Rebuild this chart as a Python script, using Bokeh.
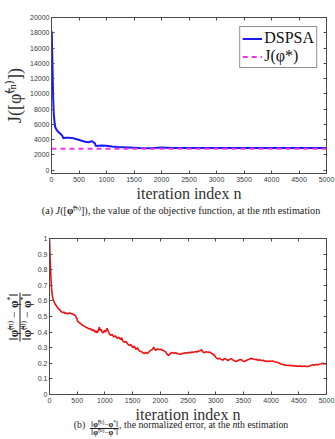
from bokeh.plotting import figure
from bokeh.layouts import column, row
from bokeh.models import (Range1d, LinearAxis, Legend, LegendItem, Div,
                          FixedTicker, CustomJSTickFormatter)
from bokeh.embed import file_html
from bokeh.resources import INLINE

# ---- objective function J over iterations (DSPSA) ----
dspsa_n = [0, 6, 12, 18, 24, 30, 36, 42, 55, 67, 90, 127, 170, 200, 218, 248,
           300, 370, 430, 491, 550, 612, 673, 710, 740, 770, 790, 805, 850,
           915, 1000, 1100, 1200, 1400, 1600, 1800, 2000, 2200, 2500, 3000,
           3500, 4000, 4500, 5000]
dspsa_j = [18200, 17900, 15500, 13800, 11500, 9500, 8300, 7300, 6300, 5650,
           5300, 4980, 4700, 4450, 4150, 4230, 4230, 4220, 4100, 3980, 3850,
           3720, 3640, 3750, 3780, 3600, 3500, 3150, 3200, 3230, 3200, 3080,
           3020, 2960, 2900, 2860, 2950, 2900, 2900, 2880, 2900, 2880, 2890,
           2880]
j_star = 2800
j_star_n = [0, 5000]

# ---- normalized error over iterations ----
err_n = [0, 5, 10, 15, 20, 25, 30, 40, 50, 65, 80, 100, 120, 140, 160, 180,
         200, 220, 240, 260, 280, 300, 330, 360, 390, 420, 450, 470, 490, 510,
         530, 560, 590, 620, 650, 680, 710, 740, 770, 800, 820, 840, 860, 880,
         900, 915, 930, 950, 970, 990, 1010, 1040, 1060, 1080, 1100, 1130,
         1160, 1190, 1220, 1250, 1280, 1300, 1320, 1350, 1380, 1410, 1440,
         1470, 1500, 1530, 1560, 1590, 1620, 1650, 1680, 1710, 1740, 1770,
         1800, 1830, 1860, 1880, 1900, 1920, 1950, 1980, 2010, 2040, 2070,
         2100, 2130, 2150, 2180, 2210, 2240, 2270, 2300, 2330, 2360, 2390,
         2420, 2450, 2480, 2510, 2540, 2570, 2600, 2630, 2660, 2690, 2720,
         2745, 2770, 2800, 2830, 2860, 2890, 2920, 2950, 2980, 3010, 3040,
         3070, 3100, 3130, 3160, 3190, 3220, 3250, 3280, 3310, 3340, 3370,
         3400, 3430, 3460, 3490, 3520, 3550, 3580, 3610, 3640, 3670, 3700,
         3730, 3760, 3790, 3820, 3850, 3880, 3910, 3940, 3970, 4000, 4030,
         4060, 4090, 4120, 4150, 4180, 4210, 4240, 4270, 4300, 4330, 4360,
         4390, 4420, 4450, 4480, 4510, 4540, 4570, 4600, 4630, 4660, 4690,
         4720, 4750, 4780, 4810, 4840, 4870, 4900, 4930, 4960, 4980, 5000]
err_v = [1.00, 0.95, 0.88, 0.84, 0.80, 0.76, 0.72, 0.67, 0.635, 0.61, 0.595,
         0.58, 0.57, 0.56, 0.55, 0.545, 0.535, 0.53, 0.525, 0.528, 0.52,
         0.522, 0.518, 0.522, 0.52, 0.516, 0.51, 0.505, 0.49, 0.47, 0.462,
         0.455, 0.445, 0.44, 0.432, 0.428, 0.42, 0.423, 0.41, 0.415, 0.40,
         0.408, 0.395, 0.41, 0.432, 0.41, 0.418, 0.40, 0.395, 0.41, 0.40,
         0.425, 0.405, 0.39, 0.38, 0.385, 0.37, 0.375, 0.36, 0.368, 0.352,
         0.365, 0.345, 0.335, 0.34, 0.325, 0.315, 0.32, 0.30, 0.31, 0.29,
         0.298, 0.28, 0.276, 0.27, 0.262, 0.27, 0.262, 0.276, 0.283, 0.29,
         0.304, 0.29, 0.283, 0.292, 0.288, 0.29, 0.284, 0.28, 0.272, 0.255,
         0.25, 0.262, 0.27, 0.265, 0.268, 0.265, 0.26, 0.258, 0.262, 0.265,
         0.268, 0.265, 0.27, 0.268, 0.272, 0.27, 0.275, 0.272, 0.278, 0.28,
         0.288, 0.272, 0.268, 0.275, 0.27, 0.272, 0.265, 0.258, 0.25, 0.235,
         0.228, 0.232, 0.225, 0.22, 0.232, 0.225, 0.218, 0.225, 0.23, 0.222,
         0.215, 0.212, 0.218, 0.222, 0.224, 0.215, 0.212, 0.218, 0.222, 0.228,
         0.232, 0.228, 0.224, 0.226, 0.22, 0.222, 0.218, 0.22, 0.215, 0.214,
         0.212, 0.215, 0.213, 0.214, 0.21, 0.208, 0.205, 0.20, 0.195, 0.192,
         0.19, 0.188, 0.186, 0.188, 0.184, 0.186, 0.182, 0.184, 0.181, 0.183,
         0.182, 0.18, 0.183, 0.18, 0.179, 0.182, 0.186, 0.19, 0.188, 0.192,
         0.19, 0.194, 0.196, 0.20, 0.195, 0.198, 0.196]

x_ticks = [0, 500, 1000, 1500, 2000, 2500, 3000, 3500, 4000, 4500, 5000]
j_ticks = [0, 2000, 4000, 6000, 8000, 10000, 12000, 14000, 16000, 18000, 20000]
err_ticks = [0, 0.1, 0.2, 0.3, 0.4, 0.5, 0.6, 0.7, 0.8, 0.9, 1]
x_title = "iteration index n"

SERIF = "Liberation Serif"
SANS = "Liberation Sans"
AXIS_COLOR = "#4a4a4a"
TICK_TEXT = "#3a3a3a"
INK = "#222222"


def boxed_axes(p, xticks, yticks, ylabel=None):
    """MATLAB-like box: inward ticks on all four sides."""
    for ax in (p.xaxis[0], p.yaxis[0]):
        ax.major_tick_in = 3
        ax.major_tick_out = 0
        ax.minor_tick_line_color = None
        ax.axis_line_color = AXIS_COLOR
        ax.major_tick_line_color = AXIS_COLOR
        ax.major_label_text_font = SANS
        ax.major_label_text_font_size = "7px"
        ax.major_label_text_color = TICK_TEXT
        ax.axis_label_text_font = SERIF
        ax.axis_label_text_font_style = "normal"
        ax.axis_label_text_color = "#333333"
    p.xaxis[0].ticker = FixedTicker(ticks=xticks)
    p.yaxis[0].ticker = FixedTicker(ticks=yticks)
    p.xaxis[0].major_label_standoff = 3
    p.yaxis[0].major_label_standoff = 2
    p.xaxis[0].axis_label = x_title
    p.xaxis[0].axis_label_text_font_size = "16px"
    p.xaxis[0].axis_label_standoff = 0
    if ylabel:
        p.yaxis[0].axis_label = ylabel
        p.yaxis[0].axis_label_text_font_size = "18px"
        p.yaxis[0].axis_label_standoff = 2
    blank = CustomJSTickFormatter(code="return ''")
    top = LinearAxis(ticker=FixedTicker(ticks=xticks), formatter=blank)
    right = LinearAxis(ticker=FixedTicker(ticks=yticks), formatter=blank)
    for ax in (top, right):
        ax.major_tick_in = 3
        ax.major_tick_out = 0
        ax.minor_tick_line_color = None
        ax.axis_line_color = AXIS_COLOR
        ax.major_tick_line_color = AXIS_COLOR
        ax.major_label_text_font_size = "0px"
        ax.major_label_standoff = 0
    p.add_layout(top, "above")
    p.add_layout(right, "right")
    p.xgrid.grid_line_color = None
    p.ygrid.grid_line_color = None
    p.outline_line_color = AXIS_COLOR


def caption(height, html, top, size):
    """Figure caption centred under a panel."""
    body = (
        f'<div style="position:relative;width:335px;height:{height}px;">'
        f'<div style="position:absolute;left:181px;top:{top}px;white-space:nowrap;'
        f"transform:translateX(-50%);font-family:'{SERIF}';color:{INK};"
        f'font-size:{size}px;line-height:11px;">{html}</div></div>')
    return Div(text=body, width=335, height=height, margin=0)


# ---------------- (a) objective function ----------------
p1 = figure(width=335, height=204, output_backend="svg", toolbar_location=None,
            x_range=Range1d(0, 5000), y_range=Range1d(-450, 20000),
            min_border_left=51, min_border_right=9, min_border_top=17,
            min_border_bottom=29, background_fill_color="white",
            border_fill_color="white")
boxed_axes(p1, x_ticks, j_ticks, "J([φ̃⁽ⁿ⁾])")

r_dspsa = p1.line(dspsa_n, dspsa_j, line_color="#1a1aee", line_width=2)
r_star = p1.line(j_star_n, [j_star, j_star], line_color="#ee33ee",
                 line_width=2, line_dash="5 4")

legend = Legend(items=[LegendItem(label="DSPSA", renderers=[r_dspsa]),
                       LegendItem(label="J(φ*)", renderers=[r_star])],
                location="top_right")
legend.label_text_font = SERIF
legend.label_text_font_size = "16px"
legend.label_text_color = "#111111"
legend.label_height = 13
legend.glyph_height = 13
legend.glyph_width = 20
legend.label_standoff = 2
legend.spacing = 0
legend.padding = 2
legend.margin = 9
legend.border_line_color = INK
legend.border_line_width = 1
p1.add_layout(legend)

cap_a = ("(a) <i>J</i>([<b>φ̃</b><sup style='font-size:6.5px'>(<i>n</i>)</sup>]), "
         "the value of the objective function, at the <i>n</i>th estimation")
div_a = caption(16, cap_a, -2, 10.2)

# ---------------- (b) normalized error ----------------
p2 = figure(width=301, height=205, output_backend="svg", toolbar_location=None,
            x_range=Range1d(0, 5000), y_range=Range1d(0, 1),
            min_border_left=14, min_border_right=9, min_border_top=18,
            min_border_bottom=30, background_fill_color="white",
            border_fill_color="white")
boxed_axes(p2, x_ticks, err_ticks)
p2.yaxis[0].formatter = CustomJSTickFormatter(
    code="return tick == 0 || tick == 1 ? tick.toFixed(0) : tick.toFixed(1)")

p2.line(err_n, err_v, line_color="#ee1111", line_width=1.6)

# rotated stacked-fraction label for the normalized-error axis
sup = "style='font-size:7.5px;line-height:0'"
ylab_b = Div(text=(
    '<div style="position:relative;width:34px;height:205px;">'
    '<div style="position:absolute;left:20px;top:97px;white-space:nowrap;'
    'transform:translate(-50%,-50%) rotate(-90deg);text-align:center;'
    f"font-family:'{SERIF}';font-size:12px;line-height:12px;color:{INK};\">"
    f'<div style="border-bottom:1px solid {INK};padding:0 1px;">'
    f'‖<b>φ̃</b><sup {sup}>(<i>n</i>)</sup> − <b>φ</b><sup {sup}>*</sup>‖</div>'
    f'<div>‖<b>φ̃</b><sup {sup}>(0)</sup> − <b>φ</b><sup {sup}>*</sup>‖</div>'
    '</div></div>'), width=34, height=205, margin=0)

sup_s = "style='font-size:5.5px;line-height:0'"
frac_b = (
    "<span style='display:inline-block;vertical-align:-7px;text-align:center;"
    "font-size:7.5px;line-height:7.5px;'>"
    f"<span style='display:block;border-bottom:0.7px solid {INK};padding:0 1px;'>"
    f"‖<b>φ̃</b><sup {sup_s}>(<i>n</i>)</sup>−<b>φ</b><sup {sup_s}>*</sup>‖</span>"
    f"<span style='display:block;'>‖<b>φ̃</b><sup {sup_s}>(0)</sup>−<b>φ</b><sup {sup_s}>*</sup>‖</span>"
    "</span>")
cap_b = f"(b)&nbsp; {frac_b}, the normalized error, at the <i>n</i>th estimation"
div_b = caption(14, cap_b, -6, 9.8)

layout = column(p1, div_a, row(ylab_b, p2, spacing=0), div_b, spacing=0)
open("out.html", "w").write(file_html(layout, INLINE))
